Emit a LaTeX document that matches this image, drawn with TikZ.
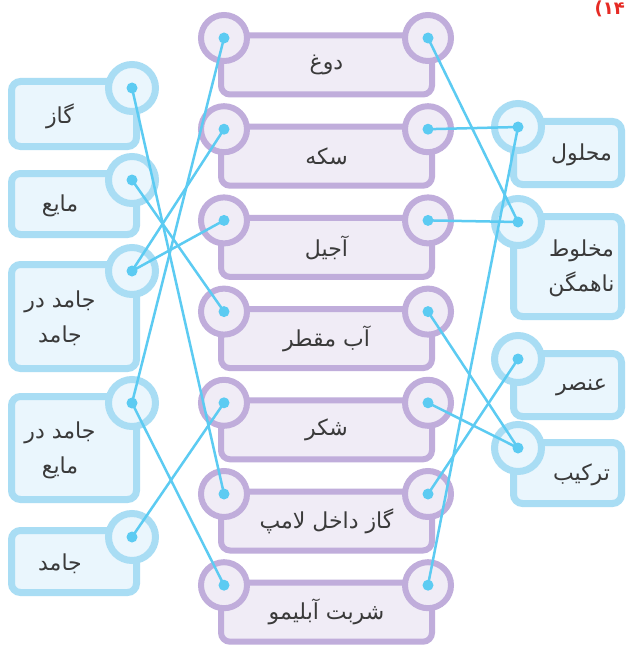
\documentclass[tikz,border=0pt]{standalone}
\usepackage{fontspec}
\newfontfamily\farsi[Script=Arabic]{DejaVu Sans}
\newfontfamily\plainsans{DejaVu Sans}
\TeXXeTstate=1
\newcommand{\fa}[1]{\beginR#1\endR}

\definecolor{skyline}{HTML}{5CCBF2}
\definecolor{skyedge}{HTML}{A9DDF4}
\definecolor{skyfill}{HTML}{EAF6FD}
\definecolor{lilacedge}{HTML}{C0ADDB}
\definecolor{lilacfill}{HTML}{F0ECF6}
\definecolor{inkgray}{HTML}{3A3A3A}
\definecolor{pagered}{HTML}{E62A24}

\tikzset{
  word/.style={font=\farsi\fontsize{22}{35}\selectfont, text=inkgray, align=center},
  lbox/.style={draw=skyedge, fill=skyfill, line width=7pt, rounded corners=9pt, minimum width=125pt},
  rbox/.style={lbox, minimum width=108pt},
  mbox/.style={draw=lilacedge, fill=lilacfill, line width=6pt, rounded corners=9pt,
    minimum width=211pt, minimum height=59pt, word},
  sring/.style={circle, draw=skyedge, fill=skyfill, line width=7pt, minimum size=47pt, inner sep=0pt},
  pring/.style={circle, draw=lilacedge, fill=lilacfill, line width=6pt, minimum size=46pt, inner sep=0pt},
  wire/.style={skyline, line width=2.5pt},
}

\begin{document}
\begin{tikzpicture}[x=1pt,y=-1pt]
\useasboundingbox[fill=white] (0,0) rectangle (626,650);
\node[anchor=east, inner sep=0pt, text=pagered, font=\plainsans\bfseries\fontsize{18}{20}\selectfont] (num) at (625,9) {(\kern0pt۱۴};

% left column
\foreach \cy/\h/\t [count=\i] in {88/65/{\fa{گاز}}, 180/61/{\fa{مایع}},
    271/104/{\fa{جامد در}\\\fa{جامد}}, 403/103/{\fa{جامد در}\\\fa{مایع}}, 537/62/{\fa{جامد}}} {
  \node[lbox, minimum height=\h] (lb\i) at (74,\cy-6.5+\h/2) {};
  \node[word] at ([xshift=-14pt,yshift=-2pt]lb\i.center) {\t};
  \node[sring] (l\i) at (132,\cy) {};
}

% middle column
\foreach \t [count=\i] in {دوغ,سکه,آجیل,آب مقطر,شکر,گاز داخل لامپ,شربت آبلیمو} {
  \pgfmathsetmacro\cy{38+91.2*(\i-1)}
  \node[mbox] (m\i) at (326.5,\cy+27) {\fa{\t}};
  \node[pring] (ml\i) at (224,\cy) {};
  \node[pring] (mr\i) at (428,\cy) {};
}

% right column
\foreach \cy/\h/\t [count=\i] in {127/63/{\fa{محلول}}, 222/100/{\fa{مخلوط}\\\fa{ناهمگن}},
    359/63/{\fa{عنصر}}, 448/61/{\fa{ترکیب}}} {
  \node[rbox, minimum height=\h] (rb\i) at (567.5,\cy-5.5+\h/2) {};
  \node[word] at ([xshift=14pt,yshift=-2pt]rb\i.center) {\t};
  \node[sring] (r\i) at (518,\cy) {};
}

% answers
\foreach \a/\b in {l1/ml6, l2/ml4, l3/ml2, l3/ml3, l4/ml1, l4/ml7, l5/ml5,
    mr1/r2, mr2/r1, mr3/r2, mr4/r4, mr5/r4, mr6/r3, mr7/r1}
  \draw[wire] (\a.center) -- (\b.center);
\foreach \n in {l1,l2,l3,l4,l5,ml1,ml2,ml3,ml4,ml5,ml6,ml7,mr1,mr2,mr3,mr4,mr5,mr6,mr7,r1,r2,r3,r4}
  \fill[skyline] (\n) circle (5.5);
\end{tikzpicture}
\end{document}
